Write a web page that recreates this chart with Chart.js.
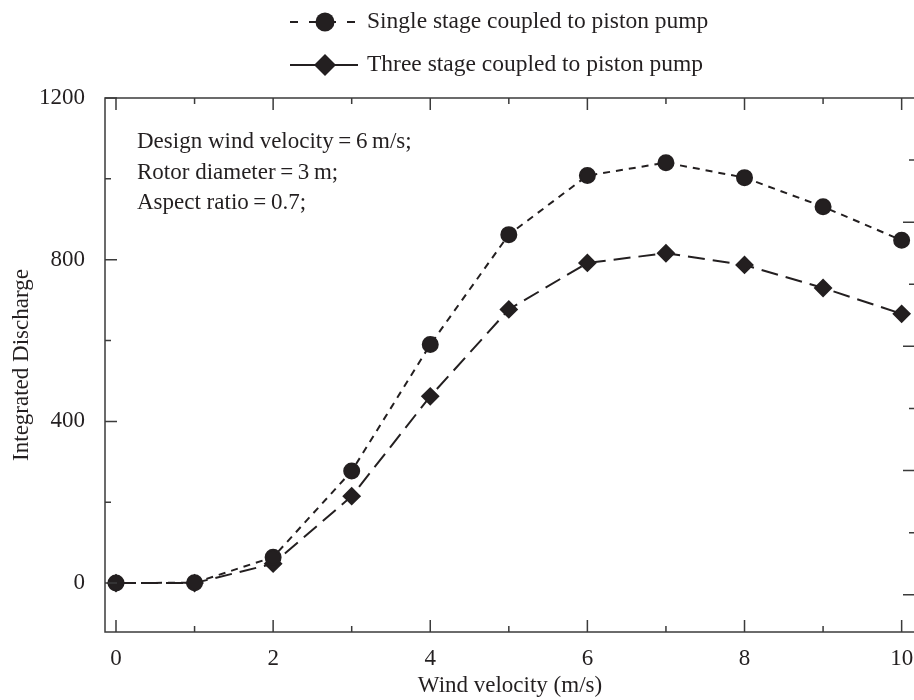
<!DOCTYPE html>
<html>
<head>
<meta charset="utf-8">
<script src="https://cdn.jsdelivr.net/npm/chart.js@4.4.0/dist/chart.umd.min.js"></script>
<style>
  html, body { margin: 0; padding: 0; background: #fff; overflow: hidden; }
  #wrap { width: 916px; height: 700px; }
</style>
</head>
<body>
<div id="wrap"><canvas id="dischargeChart" width="916" height="700"></canvas></div>
<script>
// data
const windVelocity = [0, 1, 2, 3, 4, 5, 6, 7, 8, 9, 10];
const singleStage = [0, 1, 64, 277, 590, 862, 1008, 1040, 1003, 931, 848];
const threeStage = [0, 0, 48, 215, 462, 677, 792, 816, 787, 730, 666];

const xTickLabels = [0, 2, 4, 6, 8, 10];
const yTickLabels = [0, 400, 800, 1200];
// inward tick marks (major + minor)
const xTickMarks = [0, 1, 2, 3, 4, 5, 6, 7, 8, 9, 10];
const yTickMarks = [0, 200, 400, 600, 800, 1000, 1200];
const rightTickMarks = [1, 1.5, 2, 2.5, 3, 3.5, 4, 4.5];

const notes = ['Design wind velocity\u2009=\u20096\u2009m/s;', 'Rotor diameter\u2009=\u20093\u2009m;', 'Aspect ratio\u2009=\u20090.7;'];

const ink = '#231f20';
const serif = '"Liberation Serif", "Times New Roman", serif';

// frame, inward ticks, legend and notes
const decorPlugin = {
    id: 'decor',
    afterDraw(chart) {
        const c = chart.ctx;
        const a = chart.chartArea;
        const sx = chart.scales.x, sy = chart.scales.y, sy2 = chart.scales.y2;
        c.save();
        c.strokeStyle = '#3b3b3b';
        c.lineWidth = 1.5;
        c.setLineDash([]);
        c.strokeRect(a.left, a.top, a.right - a.left, a.bottom - a.top);

        c.beginPath();
        xTickMarks.forEach(v => {
            const px = sx.getPixelForValue(v);
            const len = v % 2 === 0 ? 12 : 6;
            c.moveTo(px, a.bottom); c.lineTo(px, a.bottom - len);
            c.moveTo(px, a.top); c.lineTo(px, a.top + len);
        });
        yTickMarks.forEach(v => {
            const py = sy.getPixelForValue(v);
            const len = v % 400 === 0 ? 12 : 6;
            c.moveTo(a.left, py); c.lineTo(a.left + len, py);
        });
        rightTickMarks.forEach(v => {
            const py = sy2.getPixelForValue(v);
            const len = v % 1 === 0 ? 12 : 6;
            c.moveTo(a.right, py); c.lineTo(a.right - len, py);
        });
        c.stroke();

        // notes
        c.fillStyle = ink;
        c.font = '23px ' + serif;
        c.textBaseline = 'middle';
        c.textAlign = 'left';
        notes.forEach((t, i) => c.fillText(t, 137, 142 + i * 30.5));

        // legend
        const rows = [22, 65];
        chart.data.datasets.forEach((ds, i) => {
            const y = rows[i];
            c.strokeStyle = ink;
            c.lineWidth = 2;
            c.setLineDash(i === 0 ? [8, 11] : []);
            c.beginPath();
            c.moveTo(290, y); c.lineTo(358, y);
            c.stroke();
            c.setLineDash([]);
            c.fillStyle = ink;
            c.beginPath();
            if (i === 0) {
                c.arc(325, y, 9.5, 0, Math.PI * 2);
            } else {
                c.moveTo(325, y - 11); c.lineTo(336, y); c.lineTo(325, y + 11); c.lineTo(314, y);
                c.closePath();
            }
            c.fill();
            c.font = '23.5px ' + serif;
            c.fillText(ds.label, 367, y);
        });
        c.restore();
    }
};

const ctx = document.getElementById('dischargeChart').getContext('2d');
const dischargeChart = new Chart(ctx, {
    type: 'line',
    data: {
        datasets: [{
            label: 'Single stage coupled to piston pump',
            data: windVelocity.map((v, i) => ({x: v, y: singleStage[i]})),
            borderColor: ink,
            backgroundColor: ink,
            borderWidth: 2,
            borderDash: [7, 6],
            pointStyle: 'circle',
            pointRadius: 7.5,
            pointBackgroundColor: ink,
            pointBorderColor: ink,
            fill: false,
            tension: 0
        },
        {
            label: 'Three stage coupled to piston pump',
            data: windVelocity.map((v, i) => ({x: v, y: threeStage[i]})),
            borderColor: ink,
            backgroundColor: ink,
            borderWidth: 2,
            borderDash: [17, 8],
            pointStyle: 'rectRot',
            pointRadius: 8,
            pointBackgroundColor: ink,
            pointBorderColor: ink,
            fill: false,
            tension: 0
        }]
    },
    options: {
        responsive: false,
        animation: false,
        layout: {
            autoPadding: false,
            padding: {top: 98, left: 0, right: 0, bottom: 0}
        },
        plugins: {
            legend: { display: false },
            tooltip: { enabled: false }
        },
        scales: {
            x: {
                type: 'linear',
                min: -0.14,
                max: 10.17,
                afterFit: s => { s.height = 68; s.paddingLeft = 0; s.paddingRight = 0; },
                afterBuildTicks: s => { s.ticks = xTickLabels.map(v => ({value: v})); },
                grid: { display: false },
                border: { display: false },
                ticks: {
                    color: ink,
                    padding: 5,
                    callback: v => String(v),
                    font: { family: serif, size: 23 }
                },
                title: {
                    display: true,
                    text: 'Wind velocity (m/s)',
                    color: ink,
                    padding: {top: 2, bottom: 0},
                    font: { family: serif, size: 23 }
                }
            },
            y: {
                type: 'linear',
                min: -121,
                max: 1200,
                afterFit: s => { s.width = 105; s.paddingTop = 0; s.paddingBottom = 0; },
                afterBuildTicks: s => { s.ticks = yTickLabels.map(v => ({value: v})); },
                grid: { display: false },
                border: { display: false },
                ticks: {
                    color: ink,
                    padding: 12,
                    callback: v => String(v),
                    font: { family: serif, size: 23 }
                },
                title: {
                    display: true,
                    text: 'Integrated Discharge',
                    color: ink,
                    padding: {top: 8, bottom: 6},
                    font: { family: serif, size: 23 }
                }
            },
            y2: {
                type: 'linear',
                position: 'right',
                min: 0.7,
                max: 5,
                afterFit: s => { s.width = 1; },
                grid: { display: false },
                border: { display: false },
                ticks: { display: false }
            }
        }
    },
    plugins: [decorPlugin]
});
</script>
</body>
</html>
